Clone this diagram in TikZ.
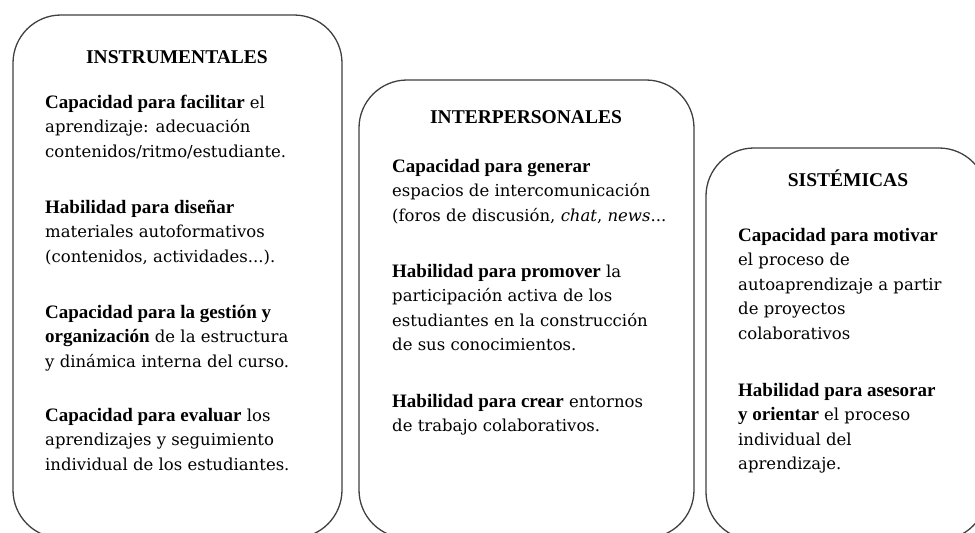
\documentclass[tikz,border=0pt]{standalone}
\usepackage{fontspec}
\setmainfont{DejaVu Serif}
\newfontfamily\libfont{Liberation Serif}
\newcommand\bb[1]{{\libfont\bfseries\fontsize{19}{24.5}\selectfont #1}}
\begin{document}
\begin{tikzpicture}[x=1pt,y=-1pt,
  boxline/.style={draw=black!75, line width=1.3pt, rounded corners=48pt},
  ttl/.style={anchor=base, inner sep=0pt, font=\libfont\bfseries\fontsize{19.5}{24.5}\selectfont},
  para/.style={anchor=base west, inner sep=0pt, align=left, font=\fontsize{16.5}{24.5}\selectfont}]
\useasboundingbox (0,0) rectangle (975,533);
\fill[white] (0,0) rectangle (975,533);
\clip (0,0) rectangle (975,533);
% boxes
\draw[boxline] (13,15) rectangle (342,538);
\draw[boxline] (359,80) rectangle (694,538);
\draw[boxline] (706,148) rectangle (987,540);
% box 1 (node base = baseline of last line)
\node[ttl] (t1) at (177,63) {INSTRUMENTALES};
\node[para] (a1) at (45,157) {\bb{Capacidad para facilitar} el\\aprendizaje: adecuación\\contenidos/ritmo/estudiante.};
\node[para] (a2) at (45,262) {\bb{Habilidad para diseñar}\\materiales autoformativos\\(contenidos, actividades...).};
\node[para] (a3) at (45,367) {\bb{Capacidad para la gestión y}\\\bb{organización} de la estructura\\y dinámica interna del curso.};
\node[para] (a4) at (45,470) {\bb{Capacidad para evaluar} los\\aprendizajes y seguimiento\\individual de los estudiantes.};
% box 2
\node[ttl] (t2) at (526,123) {INTERPERSONALES};
\node[para] (b1) at (392,221) {\bb{Capacidad para generar}\\espacios de intercomunicación\\(foros de discusión, \textit{chat}, \textit{news}...};
\node[para] (b2) at (392,350.5) {\bb{Habilidad para promover} la\\participación activa de los\\estudiantes en la construcción\\de sus conocimientos.};
\node[para] (b3) at (392,431.5) {\bb{Habilidad para crear} entornos\\de trabajo colaborativos.};
% box 3
\node[ttl] (t3) at (848,186) {SISTÉMICAS};
\node[para] (c1) at (738,339) {\bb{Capacidad para motivar}\\el proceso de\\autoaprendizaje a partir\\de proyectos\\colaborativos};
\node[para] (c2) at (738,469.5) {\bb{Habilidad para asesorar}\\\bb{y orientar} el proceso\\individual del\\aprendizaje.};
\end{tikzpicture}
\end{document}
